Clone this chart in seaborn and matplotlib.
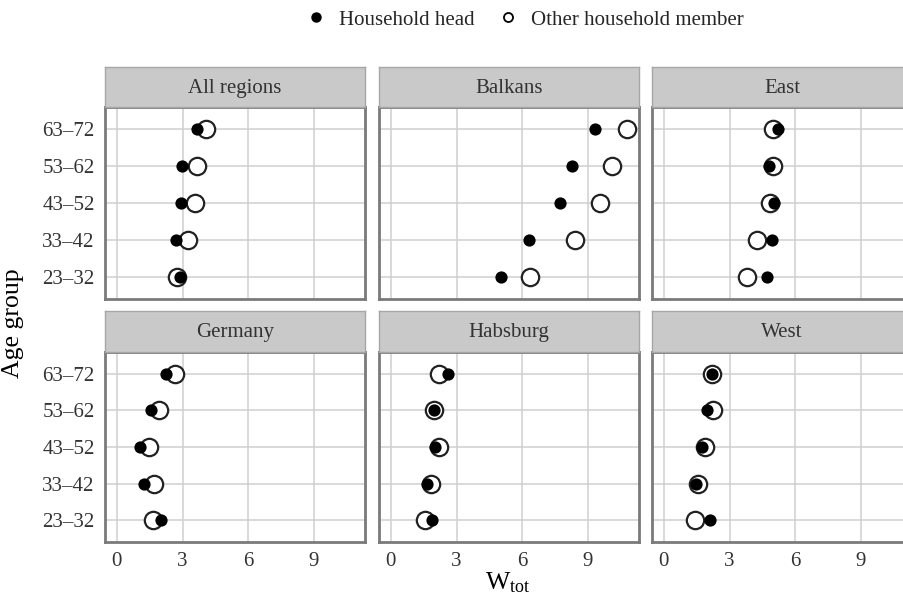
import numpy as np
import pandas as pd
import seaborn as sns
import matplotlib
matplotlib.use("Agg")
import matplotlib.pyplot as plt
from matplotlib.lines import Line2D

# ---------------- data ----------------
age_groups = ['63–72', '53–62', '43–52', '33–42', '23–32']
regions = ['All regions', 'Balkans', 'East', 'Germany', 'Habsburg', 'West']
roles = ['Household head', 'Other household member']

head_all = [3.66, 2.98, 2.92, 2.69, 2.89]
head_balkans = [9.33, 8.28, 7.73, 6.33, 5.02]
head_east = [5.22, 4.79, 5.05, 4.92, 4.69]
head_germany = [2.25, 1.58, 1.06, 1.23, 2.01]
head_habsburg = [2.62, 1.95, 2.02, 1.66, 1.90]
head_west = [2.18, 1.95, 1.74, 1.49, 2.12]

other_all = [4.08, 3.64, 3.56, 3.26, 2.74]
other_balkans = [10.79, 10.12, 9.54, 8.42, 6.37]
other_east = [4.99, 4.98, 4.84, 4.26, 3.81]
other_germany = [2.65, 1.93, 1.46, 1.70, 1.64]
other_habsburg = [2.21, 1.99, 2.22, 1.84, 1.54]
other_west = [2.19, 2.25, 1.87, 1.58, 1.42]

x_ticks = [0, 3, 6, 9]

head_vals = [head_all, head_balkans, head_east, head_germany, head_habsburg, head_west]
other_vals = [other_all, other_balkans, other_east, other_germany, other_habsburg, other_west]

rows = []
for reg, hv, ov in zip(regions, head_vals, other_vals):
    for ag, h, o in zip(age_groups, hv, ov):
        rows.append((reg, ag, roles[0], h))
        rows.append((reg, ag, roles[1], o))
df = pd.DataFrame(rows, columns=['region', 'age', 'role', 'wtot'])

# ---------------- style ----------------
sns.set_theme(style="white")
plt.rcParams['font.family'] = ['Liberation Serif', 'DejaVu Serif']
plt.rcParams['mathtext.fontset'] = 'custom'
plt.rcParams['mathtext.rm'] = 'Liberation Serif'
plt.rcParams['mathtext.it'] = 'Liberation Serif:italic'

W, H = 904, 602
fig = plt.figure(figsize=(W / 100, H / 100), dpi=100)

col_x = [105, 379, 652]
panel_w = 260
row_strip = [(67, 107), (311, 352)]
row_panel = [(107, 299), (352, 542)]

grid_col = '#cfcfcf'
border_col = '#7a7a7a'
strip_fill = '#c9c9c9'
text_col = '#333333'
FS = 15

def fr(x0, y0, x1, y1):
    return [x0 / W, 1 - y1 / H, (x1 - x0) / W, (y1 - y0) / H]

for i, reg in enumerate(regions):
    r, c = divmod(i, 3)
    x0 = col_x[c]
    x1 = x0 + panel_w
    py0, py1 = row_panel[r]
    sy0, sy1 = row_strip[r]
    ax = fig.add_axes(fr(x0, py0, x1, py1))
    sub = df[df.region == reg]
    sns.stripplot(data=sub[sub.role == roles[1]], x='wtot', y='age', order=age_groups,
                  jitter=False, color='white', edgecolor='#222222', linewidth=1.6,
                  size=12.5, ax=ax, zorder=3)
    sns.stripplot(data=sub[sub.role == roles[0]], x='wtot', y='age', order=age_groups,
                  jitter=False, color='black', edgecolor='black', linewidth=0,
                  size=8.8, ax=ax, zorder=4)
    ax.set_xlim(-0.54, 11.33)
    ax.set_ylim(len(age_groups) - 1 + 0.6, -0.6)
    ax.set_xticks(x_ticks)
    ax.set_yticks(range(len(age_groups)))
    ax.grid(True, color=grid_col, linewidth=1.1, zorder=0)
    ax.set_axisbelow(True)
    ax.set_xlabel('')
    ax.set_ylabel('')
    for sp in ax.spines.values():
        sp.set_visible(True)
        sp.set_color(border_col)
        sp.set_linewidth(2.0)
    ax.tick_params(axis='both', length=5.5, width=1.0, color='#999999',
                   labelsize=FS, labelcolor=text_col, pad=2)
    if c == 0:
        ax.set_yticklabels(age_groups)
    else:
        ax.tick_params(axis='y', left=False, labelleft=False)
    if r == 1:
        ax.set_xticklabels([str(t) for t in x_ticks])
    else:
        ax.tick_params(axis='x', bottom=False, labelbottom=False)

    sax = fig.add_axes(fr(x0, sy0, x1, sy1))
    sax.set_xlim(0, 1)
    sax.set_ylim(0, 1)
    sax.set_facecolor(strip_fill)
    sax.set_xticks([])
    sax.set_yticks([])
    for sp in sax.spines.values():
        sp.set_color('#a6a6a6')
        sp.set_linewidth(1.0)
    sax.text(0.5, 0.47, reg, ha='center', va='center', fontsize=FS, color=text_col)

# axis titles
fig.text(13 / W, 1 - 323 / H, 'Age group', rotation=90, ha='center', va='center',
         fontsize=18.5, color='black')
fig.text(508 / W, 1 - 583 / H, r'W$_{\mathrm{tot}}$', ha='center', va='center',
         fontsize=18.5, color='black')

# legend
handles = [
    Line2D([], [], marker='o', linestyle='none', markerfacecolor='black',
           markeredgecolor='black', markersize=6.5),
    Line2D([], [], marker='o', linestyle='none', markerfacecolor='white',
           markeredgecolor='black', markeredgewidth=1.3, markersize=6.5),
]
fig.legend(handles, roles, loc='center', bbox_to_anchor=(524 / W, 1 - 20 / H),
           ncol=2, frameon=False, fontsize=FS, handletextpad=0.5,
           columnspacing=1.0, handlelength=1.2)

fig.savefig('out.png', dpi=100)
